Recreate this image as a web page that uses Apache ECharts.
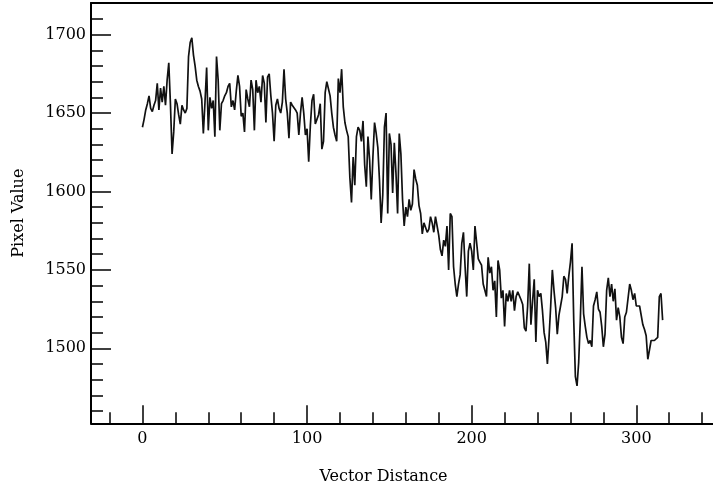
<!DOCTYPE html>
<html>
<head>
<meta charset="utf-8">
<script src="https://cdn.jsdelivr.net/npm/echarts@6/dist/echarts.min.js"></script>
<style>html,body{margin:0;padding:0;background:#fff}#c{width:713px;height:494px}</style>
</head>
<body>
<div id="c"></div>
<script>
// Pixel values sampled at each unit of vector distance (0..316)
var pixelValues = [
1641,1646,1652,1656,1661,1653,1651,1655,1658,1669,1652,1666,1657,1667,1655,1671,1682,1656,1624,1638,
1659,1656,1649,1643,1655,1652,1650,1653,1686,1695,1698,1687,1680,1671,1667,1664,1659,1637,1657,1679,
1639,1660,1653,1658,1635,1686,1671,1639,1656,1658,1661,1663,1667,1669,1654,1658,1652,1664,1674,1667,
1648,1650,1638,1665,1659,1654,1671,1665,1639,1671,1663,1667,1657,1674,1669,1644,1673,1675,1661,1650,
1632,1655,1659,1653,1650,1657,1678,1659,1650,1634,1657,1655,1654,1652,1650,1636,1650,1660,1650,1636,
1640,1619,1642,1658,1662,1643,1646,1649,1656,1627,1632,1663,1670,1669,1661,1650,1641,1636,1632,1672,
1663,1678,1654,1644,1639,1635,1609,1593,1622,1604,1635,1641,1639,1632,1645,1617,1603,1635,1620,1595,
1622,1644,1637,1628,1607,1580,1598,1641,1650,1586,1637,1630,1599,1631,1612,1586,1637,1624,1595,1578,
1590,1584,1595,1588,1592,1614,1608,1604,1591,1586,1573,1580,1577,1574,1576,1584,1580,1574,1584,1578,
1572,1563,1559,1569,1565,1578,1550,1586,1584,1552,1541,1533,1541,1547,1567,1574,1552,1533,1562,1567,
1562,1550,1578,1577,1557,1555,1553,1541,1537,1533,1558,1548,1552,1537,1543,1520,1556,1550,1532,1537,
1514,1535,1530,1537,1530,1537,1524,1533,1536,1535,1531,1528,1513,1511,1527,1554,1515,1530,1544,1504,
1537,1533,1535,1524,1510,1504,1490,1507,1527,1550,1537,1526,1509,1521,1527,1533,1546,1544,1535,1546,
1555,1567,1518,1482,1476,1491,1518,1552,1522,1514,1507,1503,1505,1501,1527,1531,1536,1525,1523,1514,
1501,1509,1537,1545,1533,1541,1530,1538,1518,1526,1520,1507,1503,1520,1523,1524,1541,1537,1531,1535,
1527,1526,1527,1526,1515,1512,1508,1493,1492,1505,1506,1505,1504,1507,1533,1535,1518
];
var xMajorTicks = [0, 100, 200, 300];
var xMinorTicks = [-20, 20, 40, 60, 80, 120, 140, 160, 180, 220, 240, 260, 280, 320, 340];
var yMajorTicks = [1500, 1550, 1600, 1650, 1700];
var yMinorTicks = [1460, 1470, 1480, 1490, 1510, 1520, 1530, 1540, 1560, 1570, 1580, 1590,
  1610, 1620, 1630, 1640, 1660, 1670, 1680, 1690, 1710];
var xTitle = 'Vector Distance';
var yTitle = 'Pixel Value';

var XMIN = -31.25, XMAX = 346.6, YMIN = 1452.2, YMAX = 1720.2;
var FONT = 'DejaVu Serif';

var seriesData = pixelValues.map(function (v, i) { return [i, v]; });
function plain(v) { return String(Math.round(v)); }

var chart = echarts.init(document.getElementById('c'), null, {renderer: 'canvas'});
var lbl = {fontFamily: FONT, fontSize: 16, color: '#000'};
chart.setOption({
  animation: false,
  backgroundColor: '#fff',
  grid: {left: 91, top: 3, right: -3, bottom: 70.7, containLabel: false},
  xAxis: [
    {
      type: 'value', min: XMIN, max: XMAX, position: 'bottom',
      axisLine: {show: true, onZero: false, lineStyle: {color: '#000', width: 2}},
      axisTick: {show: true, inside: true, length: 18, customValues: xMajorTicks, lineStyle: {color: '#000', width: 1.5}},
      axisLabel: Object.assign({customValues: xMajorTicks, margin: 8, formatter: plain}, lbl),
      splitLine: {show: false},
      name: xTitle, nameLocation: 'middle', nameGap: 46,
      nameTextStyle: Object.assign({padding: [0, 37, 0, 0]}, lbl)
    },
    {
      type: 'value', min: XMIN, max: XMAX, position: 'bottom',
      axisLine: {show: false, onZero: false},
      axisTick: {show: true, inside: true, length: 11, customValues: xMinorTicks, lineStyle: {color: '#000', width: 1.5}},
      axisLabel: {show: false}, splitLine: {show: false}
    },
    {
      type: 'value', min: XMIN, max: XMAX, position: 'top',
      axisLine: {show: true, onZero: false, lineStyle: {color: '#000', width: 2}},
      axisTick: {show: false}, axisLabel: {show: false}, splitLine: {show: false}
    }
  ],
  yAxis: [
    {
      type: 'value', min: YMIN, max: YMAX, position: 'left',
      axisLine: {show: true, onZero: false, lineStyle: {color: '#000', width: 2}},
      axisTick: {show: true, inside: true, length: 20, customValues: yMajorTicks, lineStyle: {color: '#000', width: 1.5}},
      axisLabel: Object.assign({customValues: yMajorTicks, margin: 5, formatter: plain}, lbl),
      splitLine: {show: false},
      name: yTitle, nameLocation: 'middle', nameGap: 64, nameRotate: 90,
      nameTextStyle: lbl
    },
    {
      type: 'value', min: YMIN, max: YMAX, position: 'left',
      axisLine: {show: false, onZero: false},
      axisTick: {show: true, inside: true, length: 12, customValues: yMinorTicks, lineStyle: {color: '#000', width: 1.5}},
      axisLabel: {show: false}, splitLine: {show: false}
    }
  ],
  series: [{
    type: 'line',
    xAxisIndex: 0, yAxisIndex: 0,
    data: seriesData,
    showSymbol: false,
    symbol: 'none',
    lineStyle: {color: '#111', width: 1.7},
    clip: true
  }]
});
</script>
</body>
</html>
